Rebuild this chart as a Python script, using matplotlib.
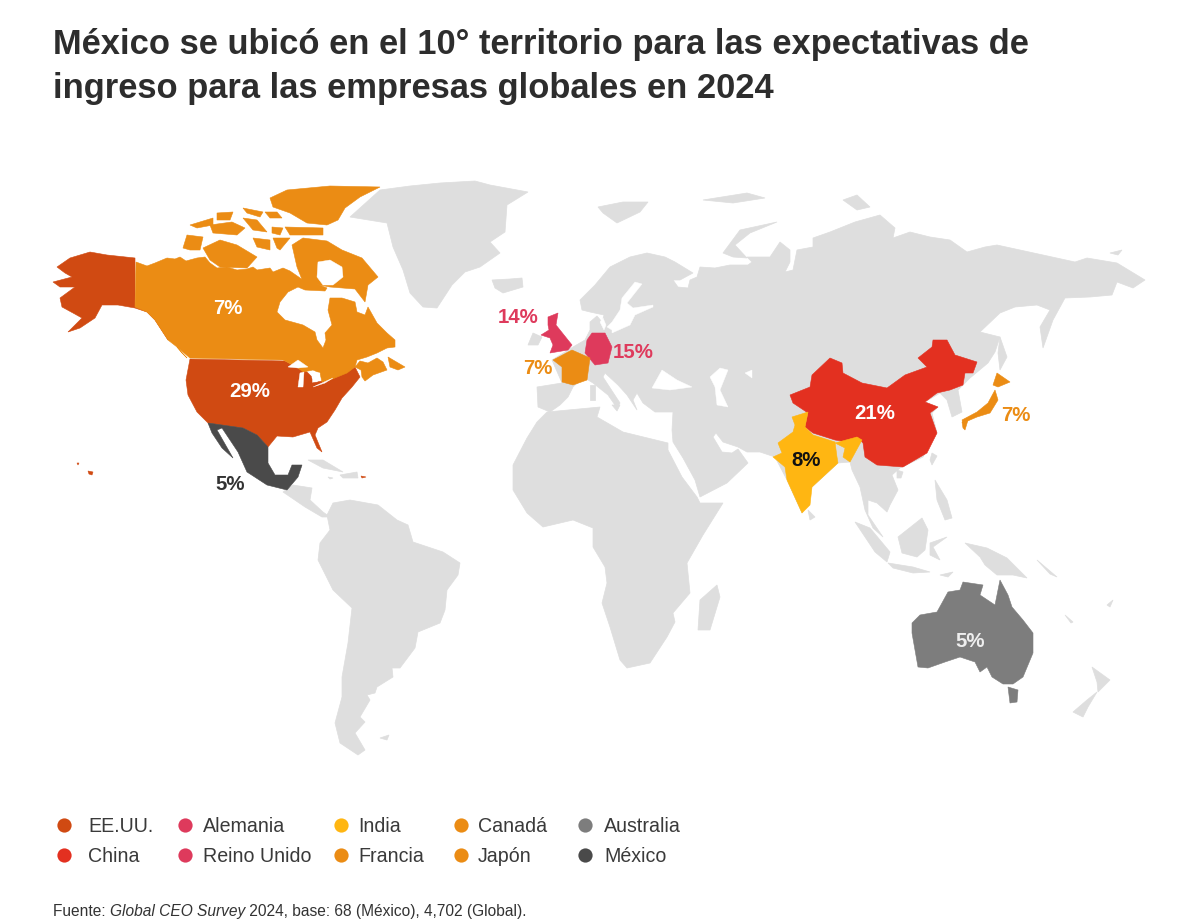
import matplotlib
matplotlib.use("Agg")
import matplotlib.pyplot as plt
from matplotlib.patches import Polygon

plt.rcParams['font.family'] = ['Liberation Sans', 'DejaVu Sans']

TITLE = ["México se ubicó en el 10° territorio para las expectativas de",
         "ingreso para las empresas globales en 2024"]

# ---- data ----
COUNTRIES = ["EE.UU.", "China", "Alemania", "Reino Unido", "India", "Francia", "Canadá", "Japón", "Australia", "México"]
SHARES = [29, 21, 15, 14, 8, 7, 7, 7, 5, 5]
COLORS = ["#D04A12", "#E33020", "#DE3A5C", "#DE3A5C", "#FFB612", "#EB8C14", "#EB8C14", "#EB8C14", "#7D7D7D", "#4A4A4A"]
LAND = "#DEDEDE"
SOURCE_PRE = "Fuente: "
SOURCE_IT = "Global CEO Survey"
SOURCE_POST = " 2024, base: 68 (México), 4,702 (Global)."

# ---- map outlines, traced in image space ----
GREY_SHAPES = [
 # Greenland
 [(380,190),(410,186),(440,183),(475,181),(490,185),(528,192),(507,205),(505,232),(490,242),(500,253),(480,267),(465,272),(452,285),(437,308),(423,307),(410,293),(403,270),(393,247),(387,223),(350,217)],
 # Iceland, Svalbard, Franz Josef, Novaya Zemlya, Severnaya
 [(492,280),(510,279),(522,278),(523,287),(503,293),(495,288)],
 [(598,207),(623,202),(648,202),(640,212),(617,223),(603,213)],
 [(703,200),(747,193),(765,198),(733,203)],
 [(723,253),(740,230),(777,222),(750,233),(735,245),(747,258),(733,257)],
 [(843,200),(857,195),(870,207),(857,210)],
 [(1110,253),(1122,250),(1118,255)],
 # Eurasia
 [(573,387),(568,397),(560,405),(550,412),(538,407),(537,387),(562,383),(552,360),(565,352),(573,347),(585,340),(590,330),(590,322),(597,316),(602,322),(604,315),(590,312),(582,310),(580,300),(595,285),(610,267),(630,257),(647,253),(665,257),(675,262),(693,273),(680,280),(673,280),(678,287),(688,288),(690,280),(697,277),(700,267),(715,268),(730,265),(748,265),(752,262),(747,257),(770,257),(780,242),(790,250),(790,262),(785,272),(793,270),(797,250),(813,247),(813,238),(830,232),(855,222),(880,215),(895,228),(893,238),(910,232),(930,237),(950,240),(967,252),(985,247),(997,245),(1020,250),(1043,255),(1075,262),(1087,258),(1117,263),(1145,280),(1133,288),(1117,282),(1112,295),(1090,297),(1065,298),(1053,320),(1043,348),(1040,327),(1050,310),(1037,305),(1015,307),(1000,313),(980,332),(1000,337),(995,352),(988,363),(970,378),(958,390),(962,412),(952,417),(947,400),(940,393),(925,402),(938,407),(932,413),(937,433),(923,457),(900,468),(892,475),(898,490),(890,505),(887,512),(877,503),(868,500),(868,515),(883,537),(873,528),(865,510),(860,487),(852,470),(850,462),(838,463),(812,487),(802,513),(787,480),(775,457),(760,452),(747,452),(738,447),(723,442),(716,433),(713,437),(722,452),(732,453),(738,449),(748,463),(727,483),(700,497),(695,480),(683,458),(673,442),(672,430),(673,412),(655,412),(643,403),(637,393),(633,400),(637,410),(627,395),(618,385),(605,373),(603,377),(620,403),(617,408),(608,395),(593,383),(585,378),(575,385)],
 # Africa, Madagascar
 [(547,412),(537,422),(527,438),(513,465),(513,490),(527,513),(543,527),(573,520),(593,528),(593,547),(605,567),(607,583),(602,603),(610,627),(620,660),(627,668),(650,663),(667,637),(675,622),(673,613),(690,593),(687,563),(703,535),(723,503),(700,503),(697,497),(682,477),(668,450),(668,443),(623,432),(597,417),(600,407)],
 [(717,585),(720,597),(710,630),(698,630),(700,600)],
 # South America, Central America, Caribbean, Falklands
 [(333,503),(350,500),(378,505),(397,520),(408,525),(413,542),(443,552),(460,563),(458,575),(447,590),(445,610),(440,623),(418,632),(415,648),(400,668),(392,668),(393,677),(377,687),(375,693),(367,695),(370,700),(360,717),(365,722),(355,733),(365,750),(358,755),(340,743),(335,723),(342,697),(342,677),(348,643),(352,608),(333,590),(318,560),(320,543),(330,530),(327,515)],
 [(293,485),(312,488),(310,500),(323,512),(330,517),(322,517),(305,507),(283,492)],
 [(308,460),(323,460),(343,472),(323,468)],
 [(340,475),(357,472),(358,478),(343,478)],
 [(328,477),(333,478),(330,479)],
 [(380,738),(389,735),(387,740)],
 # Oceania and SE Asia
 [(965,543),(987,548),(1007,558),(1027,578),(1013,575),(997,575),(985,565),(980,557)],
 [(898,537),(922,518),(928,530),(925,550),(917,557),(902,553)],
 [(855,522),(870,528),(890,552),(887,562),(875,552)],
 [(888,563),(913,567),(930,572),(913,573),(893,568)],
 [(930,543),(947,537),(933,547),(940,560),(930,555)],
 [(935,480),(947,500),(952,518),(945,520),(937,500)],
 [(940,575),(953,572),(948,577)],
 [(1037,560),(1057,577),(1050,574)],
 [(1065,615),(1073,622),(1071,623)],
 [(1107,605),(1113,600),(1110,607)],
 [(1092,667),(1110,680),(1098,692),(1097,682)],
 [(1097,692),(1088,707),(1083,717),(1073,712),(1087,700)],
 [(808,510),(815,517),(810,520)],
 [(932,453),(937,456),(932,465),(930,460)],
 [(897,470),(903,472),(901,478),(897,478)],
 [(1000,337),(1007,357),(1000,370),(998,353)],
 [(528,345),(533,333),(542,337),(538,345)],
 [(612,405),(620,405),(617,411)],
 [(590,385),(595,385),(595,400),(590,400)],
]
WATER_SHAPES = [
 [(652,388),(662,370),(677,380),(692,387),(670,390)],
 [(710,377),(720,368),(728,370),(720,390),(728,407),(717,405),(715,387)],
 [(745,373),(752,370),(752,378)],
 [(612,333),(630,325),(635,315),(653,307),(653,305),(633,308),(627,303),(642,284),(635,282),(622,298),(620,310),(612,322),(607,327),(612,330)],
 [(600,322),(603,318),(606,325),(604,330)],
 # Foxe Basin and the Great Lakes
 [(318,262),(330,260),(342,267),(343,277),(333,285),(323,285),(317,277)],
 [(288,367),(298,360),(308,367),(298,368)],
 [(300,373),(304,372),(303,387),(298,387)],
 [(312,372),(320,373),(317,382),(312,378)],
 [(313,387),(333,378),(325,383)],
]
SHAPES = {
 "EE.UU.": [
  [(190,359),(285,361),(298,368),(307,372),(312,377),(312,383),(327,380),(345,373),(355,367),(360,377),(352,387),(342,398),(335,410),(327,422),(318,428),(315,435),(322,452),(317,448),(310,432),(293,437),(277,436),(268,447),(257,435),(243,428),(208,423),(197,412),(188,395),(186,380)],
  [(135,258),(107,255),(90,252),(70,258),(57,267),(65,273),(72,277),(53,282),(60,287),(75,287),(60,298),(62,307),(73,313),(82,318),(68,332),(80,328),(95,318),(102,305),(118,305),(135,308),(147,312),(155,320),(168,340),(163,325),(152,312),(135,307)],
  [(88,471),(93,472),(92,475),(89,474)],
  [(77,463),(79,463),(78,465)],
  [(361,476),(366,477),(362,478)],
 ],
 "Canadá": [
  [(136,262),(147,266),(155,263),(167,258),(175,259),(180,257),(186,261),(197,258),(205,257),(210,263),(217,268),(227,267),(237,270),(247,269),(253,267),(257,270),(270,268),(273,272),(283,268),(290,271),(303,280),(312,282),(327,288),(325,291),(305,290),(298,287),(288,292),(280,302),(277,312),(285,320),(303,325),(315,332),(317,340),(323,348),(326,340),(325,333),(332,325),(328,310),(330,298),(342,298),(355,302),(357,312),(365,315),(368,307),(377,323),(387,333),(395,340),(395,347),(387,348),(377,353),(367,357),(357,360),(355,367),(360,361),(368,363),(377,358),(383,362),(387,370),(373,375),(365,381),(362,377),(361,370),(355,367),(347,373),(330,380),(322,382),(320,373),(313,370),(303,372),(298,368),(287,362),(283,360),(190,358),(177,347),(168,340),(155,320),(147,312),(135,307)],
  [(292,245),(303,238),(327,241),(342,250),(362,258),(378,277),(368,285),(365,302),(355,289),(330,287),(303,282),(297,267)],
  [(270,198),(287,190),(330,186),(380,187),(360,197),(345,208),(338,220),(327,225),(307,223),(290,213),(273,207)],
  [(285,227),(323,228),(323,235),(290,235)],
  [(183,248),(187,235),(203,237),(200,250),(190,250)],
  [(203,248),(220,240),(237,245),(257,257),(247,268),(220,267),(210,260)],
  [(190,225),(213,218),(213,225),(197,228)],
  [(210,225),(232,222),(245,228),(237,235),(213,233)],
  [(217,213),(233,212),(230,220),(217,220)],
  [(243,208),(263,212),(260,217),(247,213)],
  [(243,218),(257,220),(267,232),(253,230)],
  [(265,212),(277,212),(282,218),(270,218)],
  [(272,227),(283,228),(280,235),(272,233)],
  [(273,238),(290,238),(280,250),(277,248)],
  [(253,238),(270,240),(270,250),(257,247)],
  [(388,357),(405,367),(398,370),(390,367)],
  [(177,347),(187,358),(182,353)],
 ],
 "México": [
  [(208,423),(243,428),(257,435),(268,447),(268,463),(275,475),(288,475),(292,465),(302,465),(298,477),(287,490),(267,485),(247,472),(238,452),(222,428),(217,430),(233,458),(222,448),(212,433)],
 ],
 "China": [
  [(790,395),(810,387),(812,375),(830,358),(842,363),(843,373),(862,383),(887,388),(905,375),(927,367),(918,358),(932,347),(933,340),(947,340),(955,355),(977,362),(973,373),(965,373),(963,385),(950,390),(937,393),(925,402),(938,407),(930,413),(937,433),(927,453),(903,467),(877,465),(865,457),(863,443),(857,437),(847,442),(835,440),(813,433),(805,427),(808,413),(793,403)],
 ],
 "India": [
  [(792,417),(808,412),(805,427),(813,435),(835,442),(837,457),(838,463),(812,487),(810,505),(802,513),(787,480),(785,467),(773,457),(782,453),(778,443),(793,432),(795,425)],
  [(835,443),(857,437),(862,440),(850,462),(843,457),(845,448)],
 ],
 "Japón": [
  [(997,373),(1010,382),(998,387),(993,385)],
  [(995,390),(998,400),(990,413),(977,417),(963,423),(962,420),(977,412),(988,403)],
  [(962,422),(968,420),(965,430),(963,428)],
 ],
 "Australia": [
  [(912,623),(920,615),(937,612),(948,592),(960,590),(963,582),(983,585),(980,595),(995,605),(1000,580),(1008,595),(1012,607),(1023,620),(1033,633),(1033,653),(1023,677),(1013,684),(1003,684),(992,677),(987,667),(980,672),(975,662),(960,657),(945,662),(928,668),(918,667),(912,633)],
  [(1008,687),(1018,690),(1017,702),(1010,703)],
 ],
 "Reino Unido": [
  [(548,317),(558,313),(556,325),(564,335),(572,345),(568,350),(550,353),(553,345),(550,338),(541,335),(549,330),(548,325)],
 ],
 "Alemania": [
  [(592,333),(605,333),(612,347),(608,363),(595,365),(585,353),(587,340)],
 ],
 "Francia": [
  [(572,350),(590,358),(587,380),(573,385),(562,382),(562,367),(553,360)],
 ],
}
# value-label anchors: country, x, y, colour
LABELS = [("Canadá",228,308,"white"),("EE.UU.",250,391,"white"),("México",230,484,"#333333"),
          ("Reino Unido",518,317,"#DE3A5C"),("Alemania",633,352,"#DE3A5C"),("Francia",538,368,"#EB8C14"),
          ("China",875,413,"white"),("Japón",1016,415,"#EB8C14"),("India",806,460,"#111111"),("Australia",970,641,"#EEEEEE")]
LEGEND_ORDER = [["EE.UU.","China"],["Alemania","Reino Unido"],["India","Francia"],["Canadá","Japón"],["Australia","México"]]
LEGEND_MARK_X = [64,185,341,461,585]
LEGEND_TEXT_X = [88,203,358,478,604]
LEGEND_Y = [825,855]

fig = plt.figure(figsize=(12, 9.22), dpi=100, facecolor="white")
ax = fig.add_axes([0, 0, 1, 1])
ax.set_xlim(0, 1200)
ax.set_ylim(922, 0)
ax.axis("off")

color_of = dict(zip(COUNTRIES, COLORS))
share_of = dict(zip(COUNTRIES, SHARES))

for s in GREY_SHAPES:
    ax.add_patch(Polygon(s, closed=True, fc=LAND, ec=LAND, lw=0.5, zorder=1))
for name in COUNTRIES:
    for s in SHAPES[name]:
        ax.add_patch(Polygon(s, closed=True, fc=color_of[name], ec=color_of[name], lw=0.4, zorder=3))
for s in WATER_SHAPES:
    ax.add_patch(Polygon(s, closed=True, fc="white", ec="white", lw=0.3, zorder=4))

for name, x, y, c in LABELS:
    ax.text(x, y, f"{share_of[name]}%", color=c, fontsize=14.7, fontweight="bold",
            ha="center", va="center", zorder=5)

for i, col in enumerate(LEGEND_ORDER):
    for j, name in enumerate(col):
        ax.scatter([LEGEND_MARK_X[i]], [LEGEND_Y[j]], s=105, color=color_of[name], lw=0, zorder=5)
        ax.text(LEGEND_TEXT_X[i], LEGEND_Y[j] - 1, name, color="#3A3A3A", fontsize=14.1,
                ha="left", va="center_baseline", zorder=5)

ax.text(53, 54, TITLE[0], fontsize=24.85, fontweight="bold", color="#2D2D2D", va="baseline")
ax.text(53, 98, TITLE[1], fontsize=24.85, fontweight="bold", color="#2D2D2D", va="baseline")

FS = 11.2
t1 = ax.text(53, 916, SOURCE_PRE, fontsize=FS, color="#333333", va="baseline")
r = fig.canvas.get_renderer()
x = 53 + t1.get_window_extent(r).width
t2 = ax.text(x, 916, SOURCE_IT, fontsize=FS, style="italic", color="#333333", va="baseline")
x += t2.get_window_extent(r).width
ax.text(x, 916, SOURCE_POST, fontsize=FS, color="#333333", va="baseline")

fig.savefig("out.png", dpi=100)
